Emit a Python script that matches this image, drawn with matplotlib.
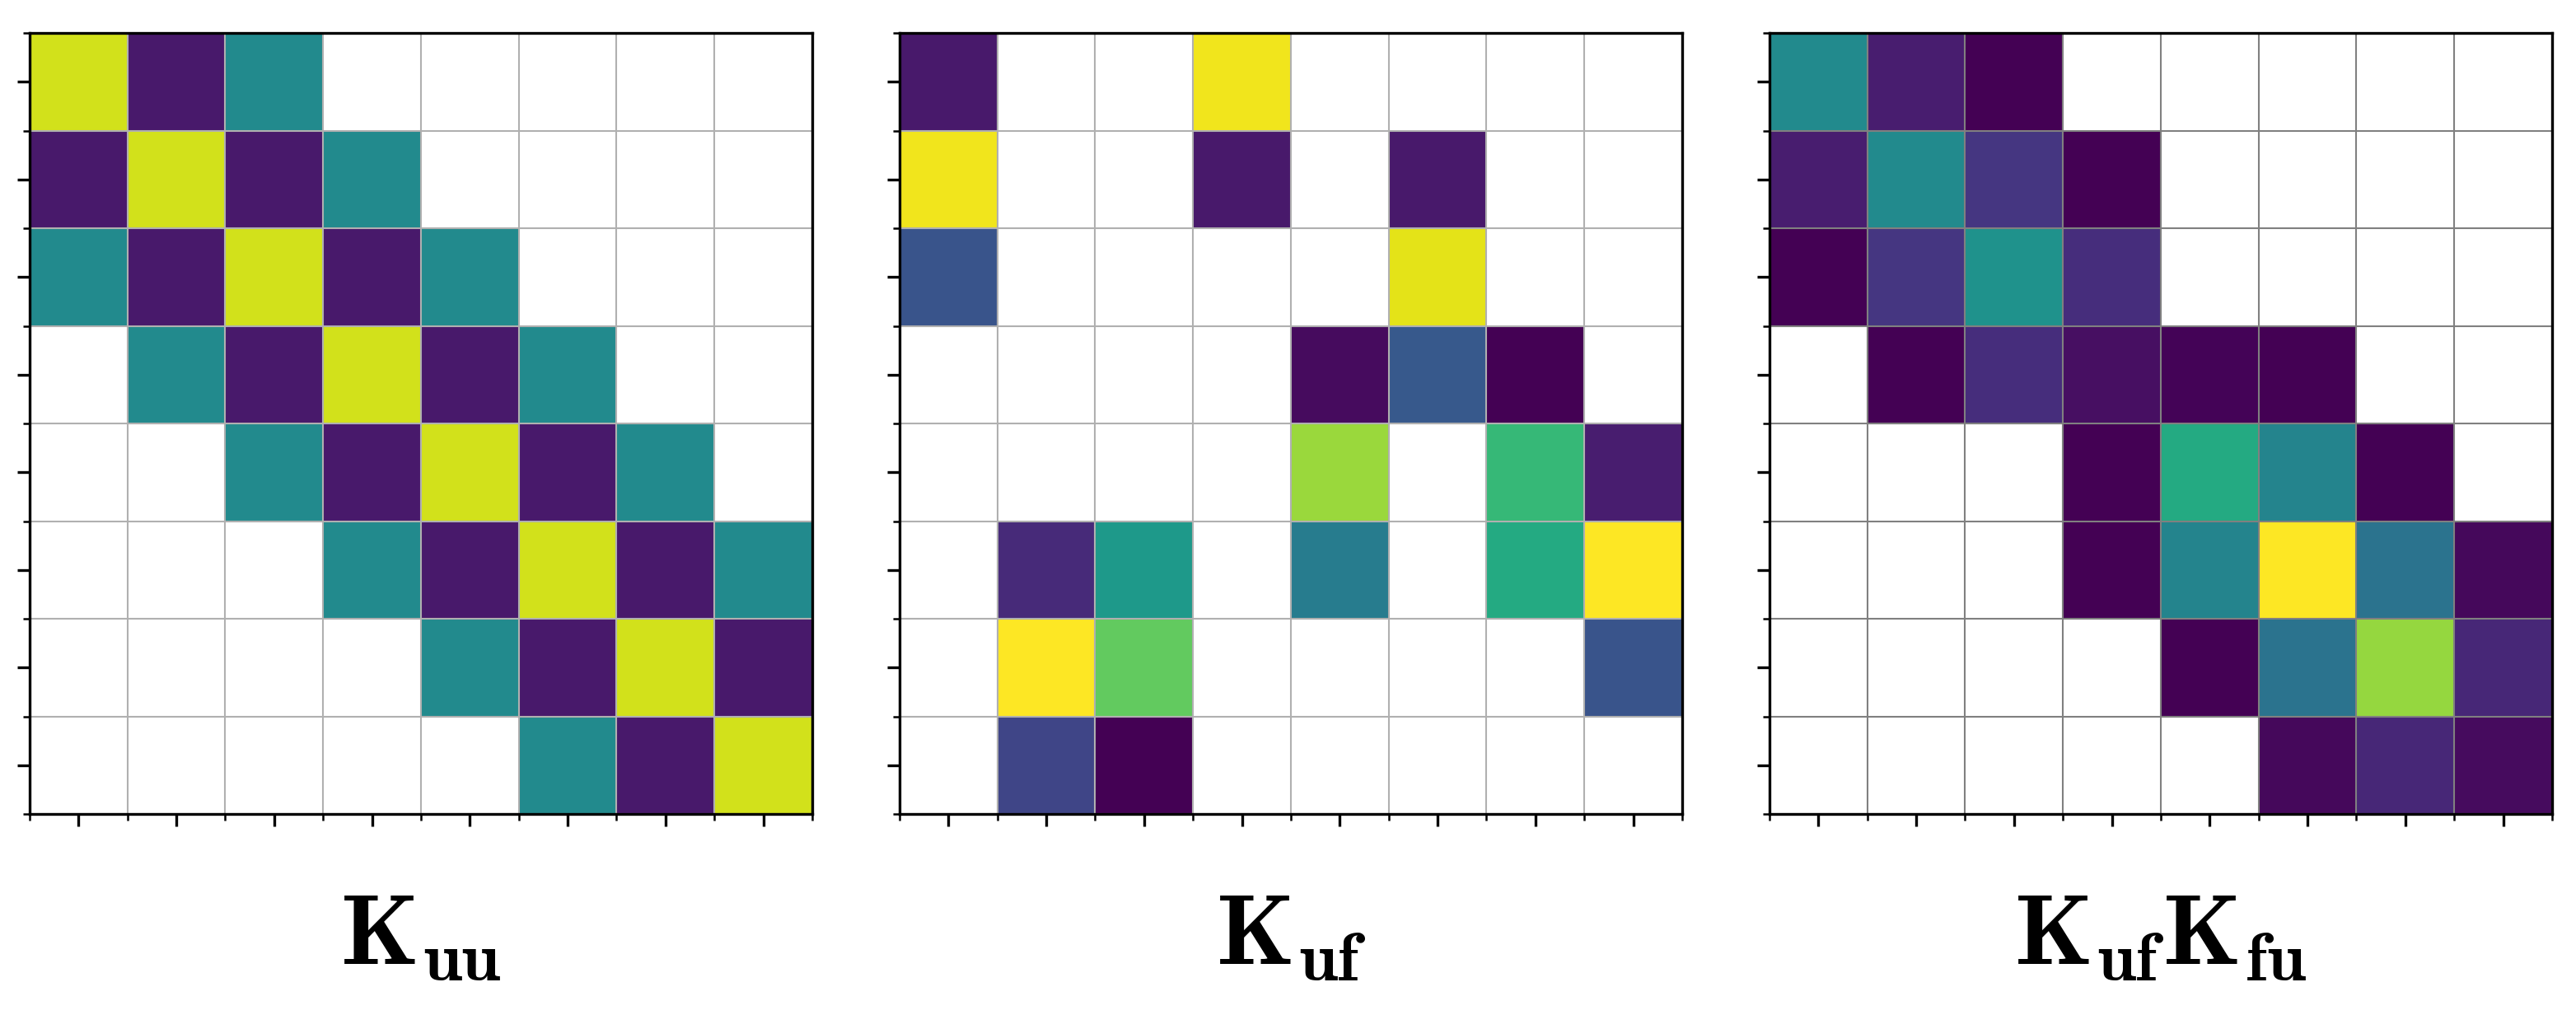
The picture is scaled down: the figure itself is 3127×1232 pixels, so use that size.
import numpy as np
import matplotlib
matplotlib.use("Agg")
import matplotlib.pyplot as plt

plt.rcParams['mathtext.fontset'] = 'cm'

N = 8
_ = None

# Panel 1: K_uu (banded: diagonal, first and second off-diagonals)
kuu_diag = 0.93
kuu_off1 = 0.07
kuu_off2 = 0.48

# Panel 2: K_uf (values on viridis scale, None = empty)
kuf = [
    [0.07, _,    _,    0.98, _,    _,    _,    _],
    [0.98, _,    _,    0.07, _,    0.07, _,    _],
    [0.26, _,    _,    _,    _,    0.96, _,    _],
    [_,    _,    _,    _,    0.03, 0.28, 0.0,  _],
    [_,    _,    _,    _,    0.85, _,    0.67, 0.08],
    [_,    0.12, 0.54, _,    0.42, _,    0.61, 1.0],
    [_,    1.0,  0.76, _,    _,    _,    _,    0.26],
    [_,    0.21, 0.0,  _,    _,    _,    _,    _],
]

# Panel 3: K_uf K_fu
kufkfu = [
    [0.48, 0.08, 0.0,  _,    _,    _,    _,    _],
    [0.08, 0.48, 0.16, 0.0,  _,    _,    _,    _],
    [0.0,  0.16, 0.51, 0.13, _,    _,    _,    _],
    [_,    0.0,  0.13, 0.04, 0.01, 0.0,  _,    _],
    [_,    _,    _,    0.0,  0.61, 0.45, 0.0,  _],
    [_,    _,    _,    0.0,  0.45, 1.0,  0.38, 0.02],
    [_,    _,    _,    _,    0.0,  0.38, 0.84, 0.11],
    [_,    _,    _,    _,    _,    0.02, 0.11, 0.03],
]

titles = [r'$\mathbf{K}_{\mathbf{uu}}$',
          r'$\mathbf{K}_{\mathbf{uf}}$',
          r'$\mathbf{K}_{\mathbf{uf}}\mathbf{K}_{\mathbf{fu}}$']


def to_arr(rows):
    return np.array([[np.nan if v is None else v for v in r] for r in rows], dtype=float)


kuu = np.full((N, N), np.nan)
for i in range(N):
    for j in range(N):
        d = abs(i - j)
        if d == 0:
            kuu[i, j] = kuu_diag
        elif d == 1:
            kuu[i, j] = kuu_off1
        elif d == 2:
            kuu[i, j] = kuu_off2

mats = [kuu, to_arr(kuf), to_arr(kufkfu)]
grid_colors = ['#b0b0b0', '#b0b0b0', '#808080']

W, H = 3128, 1232
fig = plt.figure(figsize=(W / 300, H / 300), dpi=300)
lefts = [36, 1092, 2148]
aw, ah = 950, 948
bottom_px = 1232 - 988

for k, (m, t, gc) in enumerate(zip(mats, titles, grid_colors)):
    ax = fig.add_axes([lefts[k] / W, bottom_px / H, aw / W, ah / H])
    ax.imshow(np.ma.masked_invalid(m), cmap='viridis', vmin=0, vmax=1,
              interpolation='nearest', aspect='auto')
    ax.set_xticks(np.arange(N))
    ax.set_yticks(np.arange(N))
    ax.set_xticks(np.arange(-0.5, N, 1), minor=True)
    ax.set_yticks(np.arange(-0.5, N, 1), minor=True)
    ax.set_xticklabels([])
    ax.set_yticklabels([])
    ax.tick_params(which='minor', labelbottom=False, labelleft=False)
    ax.grid(which='minor', color=gc, linewidth=0.5)
    ax.grid(which='major', visible=False)
    ax.set_xlim(-0.5, N - 0.5)
    ax.set_ylim(N - 0.5, -0.5)
    cx = (lefts[k] + aw / 2) / W
    fig.text(cx, 1 - 1169 / H, t, ha='center', va='baseline', fontsize=29)

fig.savefig('out.png', dpi=300)
